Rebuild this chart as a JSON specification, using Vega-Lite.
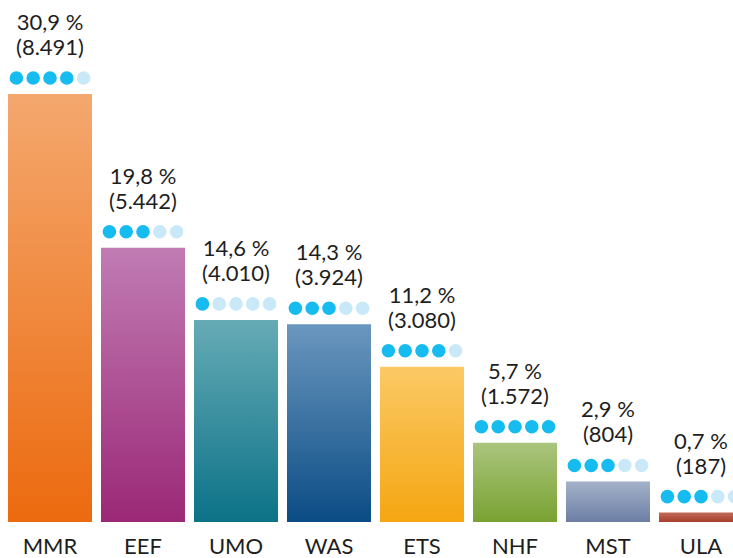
{
  "$schema": "https://vega.github.io/schema/vega-lite/v6.json",
  "width": 751,
  "height": 522,
  "padding": {"left": 0, "top": 0, "right": 0, "bottom": 36},
  "autosize": {"type": "none"},
  "background": "white",
  "config": {"view": {"stroke": null}, "font": "Lato"},
  "datasets": {
    "bars": [
      {"cat": "MMR", "pct": 30.9, "count": 8491, "rating": 4},
      {"cat": "EEF", "pct": 19.8, "count": 5442, "rating": 3},
      {"cat": "UMO", "pct": 14.6, "count": 4010, "rating": 1},
      {"cat": "WAS", "pct": 14.3, "count": 3924, "rating": 3},
      {"cat": "ETS", "pct": 11.2, "count": 3080, "rating": 4},
      {"cat": "NHF", "pct": 5.7, "count": 1572, "rating": 5},
      {"cat": "MST", "pct": 2.9, "count": 804, "rating": 3},
      {"cat": "ULA", "pct": 0.7, "count": 187, "rating": 3}
    ],
    "dots": [
      {"cat": "MMR", "i": 1, "on": "yes"}, {"cat": "MMR", "i": 2, "on": "yes"}, {"cat": "MMR", "i": 3, "on": "yes"}, {"cat": "MMR", "i": 4, "on": "yes"}, {"cat": "MMR", "i": 5, "on": "no"},
      {"cat": "EEF", "i": 1, "on": "yes"}, {"cat": "EEF", "i": 2, "on": "yes"}, {"cat": "EEF", "i": 3, "on": "yes"}, {"cat": "EEF", "i": 4, "on": "no"}, {"cat": "EEF", "i": 5, "on": "no"},
      {"cat": "UMO", "i": 1, "on": "yes"}, {"cat": "UMO", "i": 2, "on": "no"}, {"cat": "UMO", "i": 3, "on": "no"}, {"cat": "UMO", "i": 4, "on": "no"}, {"cat": "UMO", "i": 5, "on": "no"},
      {"cat": "WAS", "i": 1, "on": "yes"}, {"cat": "WAS", "i": 2, "on": "yes"}, {"cat": "WAS", "i": 3, "on": "yes"}, {"cat": "WAS", "i": 4, "on": "no"}, {"cat": "WAS", "i": 5, "on": "no"},
      {"cat": "ETS", "i": 1, "on": "yes"}, {"cat": "ETS", "i": 2, "on": "yes"}, {"cat": "ETS", "i": 3, "on": "yes"}, {"cat": "ETS", "i": 4, "on": "yes"}, {"cat": "ETS", "i": 5, "on": "no"},
      {"cat": "NHF", "i": 1, "on": "yes"}, {"cat": "NHF", "i": 2, "on": "yes"}, {"cat": "NHF", "i": 3, "on": "yes"}, {"cat": "NHF", "i": 4, "on": "yes"}, {"cat": "NHF", "i": 5, "on": "yes"},
      {"cat": "MST", "i": 1, "on": "yes"}, {"cat": "MST", "i": 2, "on": "yes"}, {"cat": "MST", "i": 3, "on": "yes"}, {"cat": "MST", "i": 4, "on": "no"}, {"cat": "MST", "i": 5, "on": "no"},
      {"cat": "ULA", "i": 1, "on": "yes"}, {"cat": "ULA", "i": 2, "on": "yes"}, {"cat": "ULA", "i": 3, "on": "yes"}, {"cat": "ULA", "i": 4, "on": "no"}, {"cat": "ULA", "i": 5, "on": "no"}
    ]
  },
  "encoding": {
    "x": {
      "field": "cat", "type": "nominal", "sort": null,
      "scale": {"paddingInner": 0.0968, "paddingOuter": 0.086},
      "axis": {"title": null, "domain": false, "ticks": false, "labelAngle": 0, "labelFontSize": 22, "labelColor": "#1e1e1e", "labelFont": "Lato", "labelPadding": 14}
    },
    "y": {
      "field": "count", "type": "quantitative",
      "scale": {"domain": [0, 10357], "nice": false, "zero": true},
      "axis": null
    }
  },
  "resolve": {"scale": {"xOffset": "independent"}},
  "layer": [
    {
      "data": {"name": "bars"},
      "mark": {"type": "bar"},
      "encoding": {
        "color": {
          "condition": [
            {"test": "datum.cat === 'MMR'", "value": {"gradient": "linear", "x1": 0, "y1": 0, "x2": 0, "y2": 1, "stops": [{"offset": 0, "color": "#f4a86e"}, {"offset": 1, "color": "#ec6a0f"}]}},
            {"test": "datum.cat === 'EEF'", "value": {"gradient": "linear", "x1": 0, "y1": 0, "x2": 0, "y2": 1, "stops": [{"offset": 0, "color": "#c17cb4"}, {"offset": 1, "color": "#9b2876"}]}},
            {"test": "datum.cat === 'UMO'", "value": {"gradient": "linear", "x1": 0, "y1": 0, "x2": 0, "y2": 1, "stops": [{"offset": 0, "color": "#66abb6"}, {"offset": 1, "color": "#0c7287"}]}},
            {"test": "datum.cat === 'WAS'", "value": {"gradient": "linear", "x1": 0, "y1": 0, "x2": 0, "y2": 1, "stops": [{"offset": 0, "color": "#6a97be"}, {"offset": 1, "color": "#0b4c85"}]}},
            {"test": "datum.cat === 'ETS'", "value": {"gradient": "linear", "x1": 0, "y1": 0, "x2": 0, "y2": 1, "stops": [{"offset": 0, "color": "#fbc965"}, {"offset": 1, "color": "#f5a612"}]}},
            {"test": "datum.cat === 'NHF'", "value": {"gradient": "linear", "x1": 0, "y1": 0, "x2": 0, "y2": 1, "stops": [{"offset": 0, "color": "#aac57e"}, {"offset": 1, "color": "#79a231"}]}},
            {"test": "datum.cat === 'MST'", "value": {"gradient": "linear", "x1": 0, "y1": 0, "x2": 0, "y2": 1, "stops": [{"offset": 0, "color": "#a4b1c9"}, {"offset": 1, "color": "#6c7fa4"}]}},
            {"test": "datum.cat === 'ULA'", "value": {"gradient": "linear", "x1": 0, "y1": 0, "x2": 0, "y2": 1, "stops": [{"offset": 0, "color": "#c26a58"}, {"offset": 1, "color": "#a83f2e"}]}}
          ],
          "value": "#999999"
        }
      }
    },
    {
      "data": {"name": "bars"},
      "transform": [{"calculate": "replace(format(datum.pct, '.1f'), '.', ',') + ' %'", "as": "pctLabel"}],
      "mark": {"type": "text", "dy": -71, "baseline": "middle", "align": "center", "fontSize": 22, "font": "Lato", "color": "#1e1e1e"},
      "encoding": {"text": {"field": "pctLabel"}}
    },
    {
      "data": {"name": "bars"},
      "transform": [{"calculate": "'(' + replace(format(datum.count, ','), ',', '.') + ')'", "as": "countLabel"}],
      "mark": {"type": "text", "dy": -46, "baseline": "middle", "align": "center", "fontSize": 22, "font": "Lato", "color": "#1e1e1e"},
      "encoding": {"text": {"field": "countLabel"}}
    },
    {
      "data": {"name": "dots"},
      "transform": [{"lookup": "cat", "from": {"data": {"name": "bars"}, "key": "cat", "fields": ["count"]}}],
      "mark": {"type": "circle", "size": 185, "opacity": 1, "yOffset": -16},
      "encoding": {
        "xOffset": {"field": "i", "type": "ordinal", "scale": {"paddingInner": 0, "paddingOuter": 0.5}},
        "color": {"field": "on", "type": "nominal", "scale": {"domain": ["yes", "no"], "range": ["#16bcef", "#c9e9f9"]}, "legend": null}
      }
    }
  ]
}
